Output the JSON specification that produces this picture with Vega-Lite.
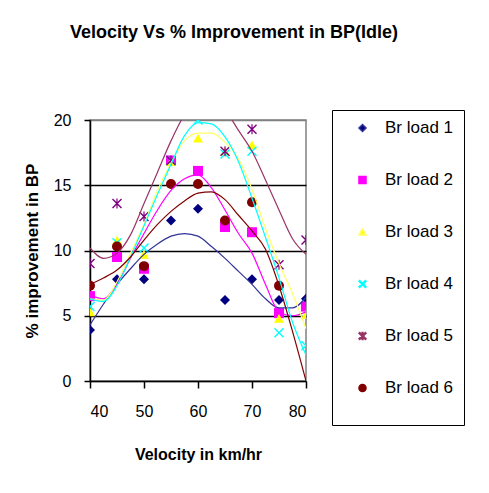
{
  "$schema": "https://vega.github.io/schema/vega-lite/v6.json",
  "width": 216,
  "height": 261,
  "autosize": {"type": "none"},
  "padding": {"left": 90, "top": 120, "right": 183, "bottom": 112},
  "background": "white",
  "title": {"text": "Velocity Vs % Improvement in BP(Idle)", "font": "Liberation Sans", "fontSize": 18, "fontWeight": "bold", "anchor": "middle", "dx": 36, "offset": 68, "color": "black"},
  "config": {
    "view": {"stroke": "#808080", "strokeWidth": 1.5},
    "axis": {"labelFont": "Liberation Sans", "titleFont": "Liberation Sans", "labelColor": "black", "titleColor": "black", "domainColor": "black", "tickColor": "black", "domainWidth": 1.5, "tickWidth": 1.5, "labelFontSize": 16, "titleFontSize": 16, "titleFontWeight": "bold"}
  },
  "datasets": {
    "points": [
      {"series": "Br load 1", "velocity": 40, "value": 3.9},
      {"series": "Br load 1", "velocity": 45, "value": 7.8},
      {"series": "Br load 1", "velocity": 50, "value": 7.8},
      {"series": "Br load 1", "velocity": 55, "value": 12.3},
      {"series": "Br load 1", "velocity": 60, "value": 13.2},
      {"series": "Br load 1", "velocity": 65, "value": 6.2},
      {"series": "Br load 1", "velocity": 70, "value": 7.8},
      {"series": "Br load 1", "velocity": 75, "value": 6.2},
      {"series": "Br load 1", "velocity": 80, "value": 6.3},
      {"series": "Br load 2", "velocity": 40, "value": 6.5},
      {"series": "Br load 2", "velocity": 45, "value": 9.5},
      {"series": "Br load 2", "velocity": 50, "value": 8.6},
      {"series": "Br load 2", "velocity": 55, "value": 16.9},
      {"series": "Br load 2", "velocity": 60, "value": 16.1},
      {"series": "Br load 2", "velocity": 65, "value": 11.8},
      {"series": "Br load 2", "velocity": 70, "value": 11.4},
      {"series": "Br load 2", "velocity": 75, "value": 5.2},
      {"series": "Br load 2", "velocity": 80, "value": 5.7},
      {"series": "Br load 3", "velocity": 40, "value": 5.3},
      {"series": "Br load 3", "velocity": 45, "value": 10.8},
      {"series": "Br load 3", "velocity": 50, "value": 9.7},
      {"series": "Br load 3", "velocity": 55, "value": 16.8},
      {"series": "Br load 3", "velocity": 60, "value": 18.6},
      {"series": "Br load 3", "velocity": 65, "value": 17.6},
      {"series": "Br load 3", "velocity": 70, "value": 18.1},
      {"series": "Br load 3", "velocity": 75, "value": 4.8},
      {"series": "Br load 3", "velocity": 80, "value": 5.1},
      {"series": "Br load 4", "velocity": 40, "value": 5.7},
      {"series": "Br load 4", "velocity": 45, "value": 10.6},
      {"series": "Br load 4", "velocity": 50, "value": 10.2},
      {"series": "Br load 4", "velocity": 55, "value": 16.9},
      {"series": "Br load 4", "velocity": 60, "value": 20.0},
      {"series": "Br load 4", "velocity": 65, "value": 17.4},
      {"series": "Br load 4", "velocity": 70, "value": 17.6},
      {"series": "Br load 4", "velocity": 75, "value": 3.7},
      {"series": "Br load 4", "velocity": 80, "value": 2.7},
      {"series": "Br load 5", "velocity": 40, "value": 9.0},
      {"series": "Br load 5", "velocity": 45, "value": 13.6},
      {"series": "Br load 5", "velocity": 50, "value": 12.6},
      {"series": "Br load 5", "velocity": 55, "value": 16.9},
      {"series": "Br load 5", "velocity": 60, "value": 21.5},
      {"series": "Br load 5", "velocity": 65, "value": 17.6},
      {"series": "Br load 5", "velocity": 70, "value": 19.3},
      {"series": "Br load 5", "velocity": 75, "value": 8.9},
      {"series": "Br load 5", "velocity": 80, "value": 10.8},
      {"series": "Br load 6", "velocity": 40, "value": 7.3},
      {"series": "Br load 6", "velocity": 45, "value": 10.3},
      {"series": "Br load 6", "velocity": 50, "value": 8.8},
      {"series": "Br load 6", "velocity": 55, "value": 15.1},
      {"series": "Br load 6", "velocity": 60, "value": 15.1},
      {"series": "Br load 6", "velocity": 65, "value": 12.3},
      {"series": "Br load 6", "velocity": 70, "value": 13.7},
      {"series": "Br load 6", "velocity": 75, "value": 7.3}
    ],
    "trend": [
      {"series": "Br load 1", "velocity": 40, "value": 4.3},
      {"series": "Br load 1", "velocity": 42.5, "value": 5.9},
      {"series": "Br load 1", "velocity": 45, "value": 7.4},
      {"series": "Br load 1", "velocity": 47.5, "value": 8.6},
      {"series": "Br load 1", "velocity": 50, "value": 9.7},
      {"series": "Br load 1", "velocity": 52.5, "value": 10.5},
      {"series": "Br load 1", "velocity": 55, "value": 11.1},
      {"series": "Br load 1", "velocity": 57.5, "value": 11.3},
      {"series": "Br load 1", "velocity": 60, "value": 11.1},
      {"series": "Br load 1", "velocity": 62.5, "value": 10.3},
      {"series": "Br load 1", "velocity": 65, "value": 9.4},
      {"series": "Br load 1", "velocity": 67.5, "value": 8.4},
      {"series": "Br load 1", "velocity": 70, "value": 7.4},
      {"series": "Br load 1", "velocity": 72.5, "value": 6.3},
      {"series": "Br load 1", "velocity": 75, "value": 5.6},
      {"series": "Br load 1", "velocity": 77.5, "value": 5.6},
      {"series": "Br load 1", "velocity": 80, "value": 6.4},
      {"series": "Br load 2", "velocity": 40, "value": 6.6},
      {"series": "Br load 2", "velocity": 42.5, "value": 6.3},
      {"series": "Br load 2", "velocity": 45, "value": 7.4},
      {"series": "Br load 2", "velocity": 47.5, "value": 9.4},
      {"series": "Br load 2", "velocity": 50, "value": 11.3},
      {"series": "Br load 2", "velocity": 52.5, "value": 13.1},
      {"series": "Br load 2", "velocity": 55, "value": 14.6},
      {"series": "Br load 2", "velocity": 57.5, "value": 15.5},
      {"series": "Br load 2", "velocity": 60, "value": 15.8},
      {"series": "Br load 2", "velocity": 62.5, "value": 14.8},
      {"series": "Br load 2", "velocity": 65, "value": 13.1},
      {"series": "Br load 2", "velocity": 67.5, "value": 11.3},
      {"series": "Br load 2", "velocity": 70, "value": 9.8},
      {"series": "Br load 2", "velocity": 72.5, "value": 7.4},
      {"series": "Br load 2", "velocity": 75, "value": 5.3},
      {"series": "Br load 2", "velocity": 77.5, "value": 5.0},
      {"series": "Br load 2", "velocity": 80, "value": 5.3},
      {"series": "Br load 3", "velocity": 40, "value": 6.3},
      {"series": "Br load 3", "velocity": 42.5, "value": 6.2},
      {"series": "Br load 3", "velocity": 45, "value": 7.6},
      {"series": "Br load 3", "velocity": 47.5, "value": 9.8},
      {"series": "Br load 3", "velocity": 50, "value": 12.0},
      {"series": "Br load 3", "velocity": 52.5, "value": 14.6},
      {"series": "Br load 3", "velocity": 55, "value": 16.7},
      {"series": "Br load 3", "velocity": 57.5, "value": 18.4},
      {"series": "Br load 3", "velocity": 60, "value": 19.0},
      {"series": "Br load 3", "velocity": 62.5, "value": 19.0},
      {"series": "Br load 3", "velocity": 65, "value": 18.3},
      {"series": "Br load 3", "velocity": 67.5, "value": 17.0},
      {"series": "Br load 3", "velocity": 70, "value": 14.7},
      {"series": "Br load 3", "velocity": 72.5, "value": 11.7},
      {"series": "Br load 3", "velocity": 75, "value": 9.0},
      {"series": "Br load 3", "velocity": 77.5, "value": 6.7},
      {"series": "Br load 3", "velocity": 80, "value": 4.0},
      {"series": "Br load 4", "velocity": 40, "value": 6.3},
      {"series": "Br load 4", "velocity": 42.5, "value": 6.1},
      {"series": "Br load 4", "velocity": 45, "value": 7.3},
      {"series": "Br load 4", "velocity": 47.5, "value": 9.5},
      {"series": "Br load 4", "velocity": 50, "value": 11.9},
      {"series": "Br load 4", "velocity": 52.5, "value": 14.3},
      {"series": "Br load 4", "velocity": 55, "value": 16.6},
      {"series": "Br load 4", "velocity": 57.5, "value": 18.8},
      {"series": "Br load 4", "velocity": 60, "value": 19.8},
      {"series": "Br load 4", "velocity": 62.5, "value": 19.7},
      {"series": "Br load 4", "velocity": 65, "value": 18.7},
      {"series": "Br load 4", "velocity": 67.5, "value": 16.8},
      {"series": "Br load 4", "velocity": 70, "value": 14.0},
      {"series": "Br load 4", "velocity": 72.5, "value": 11.0},
      {"series": "Br load 4", "velocity": 75, "value": 7.9},
      {"series": "Br load 4", "velocity": 77.5, "value": 4.5},
      {"series": "Br load 4", "velocity": 80, "value": 2.0},
      {"series": "Br load 5", "velocity": 40, "value": 10.2},
      {"series": "Br load 5", "velocity": 42.5, "value": 9.4},
      {"series": "Br load 5", "velocity": 45, "value": 9.8},
      {"series": "Br load 5", "velocity": 47.5, "value": 11.2},
      {"series": "Br load 5", "velocity": 50, "value": 13.6},
      {"series": "Br load 5", "velocity": 52.5, "value": 16.0},
      {"series": "Br load 5", "velocity": 55, "value": 18.4},
      {"series": "Br load 5", "velocity": 57.5, "value": 20.4},
      {"series": "Br load 5", "velocity": 60, "value": 21.5},
      {"series": "Br load 5", "velocity": 62.5, "value": 21.7},
      {"series": "Br load 5", "velocity": 65, "value": 20.8},
      {"series": "Br load 5", "velocity": 67.5, "value": 19.2},
      {"series": "Br load 5", "velocity": 70, "value": 17.6},
      {"series": "Br load 5", "velocity": 72.5, "value": 15.4},
      {"series": "Br load 5", "velocity": 75, "value": 13.1},
      {"series": "Br load 5", "velocity": 77.5, "value": 10.9},
      {"series": "Br load 5", "velocity": 80, "value": 9.7},
      {"series": "Br load 6", "velocity": 40, "value": 7.4},
      {"series": "Br load 6", "velocity": 42.5, "value": 7.9},
      {"series": "Br load 6", "velocity": 45, "value": 8.5},
      {"series": "Br load 6", "velocity": 47.5, "value": 9.5},
      {"series": "Br load 6", "velocity": 50, "value": 10.8},
      {"series": "Br load 6", "velocity": 52.5, "value": 12.0},
      {"series": "Br load 6", "velocity": 55, "value": 13.0},
      {"series": "Br load 6", "velocity": 57.5, "value": 13.8},
      {"series": "Br load 6", "velocity": 60, "value": 14.4},
      {"series": "Br load 6", "velocity": 62.5, "value": 14.5},
      {"series": "Br load 6", "velocity": 65, "value": 13.9},
      {"series": "Br load 6", "velocity": 67.5, "value": 12.7},
      {"series": "Br load 6", "velocity": 70, "value": 11.5},
      {"series": "Br load 6", "velocity": 72.5, "value": 10.1},
      {"series": "Br load 6", "velocity": 75, "value": 7.3},
      {"series": "Br load 6", "velocity": 77.5, "value": 3.8},
      {"series": "Br load 6", "velocity": 80, "value": 0}
    ]
  },
  "layer": [
    {
      "data": {"name": "points"},
      "mark": {"type": "point", "filled": true, "size": 100, "opacity": 1, "clip": true, "strokeWidth": 0},
      "encoding": {
        "x": {"field": "velocity", "type": "quantitative", "scale": {"domain": [40, 80], "nice": false, "zero": false},
          "axis": {"values": [40, 50, 60, 70, 80], "title": "Velocity in km/hr", "grid": false, "tickSize": 7, "labelPadding": 15, "titlePadding": 27}},
        "y": {"field": "value", "type": "quantitative", "scale": {"domain": [0, 20], "nice": false},
          "axis": {"values": [0, 5, 10, 15, 20], "title": "% improvement in BP", "titleFontSize": 17, "grid": true, "gridColor": {"condition": {"test": "datum.value === 20 || datum.value === 0", "value": "#808080"}, "value": "black"}, "gridWidth": 1.5, "tickSize": 6, "labelPadding": 13, "titlePadding": 12}},
        "color": {"field": "series", "type": "nominal",
          "scale": {"domain": ["Br load 1", "Br load 2", "Br load 3", "Br load 4", "Br load 5", "Br load 6"], "range": ["#000080", "#FF00FF", "#FFFF00", "#00FFFF", "#800080", "#800000"]},
          "legend": {"orient": "none", "legendX": 242, "legendY": -10, "title": " ", "titleOrient": "bottom", "titleFontSize": 12, "titlePadding": 8, "strokeColor": "black", "fillColor": "white", "padding": 10, "labelFontSize": 17, "labelFont": "Liberation Sans", "labelColor": "black", "symbolSize": 50, "rowPadding": 35, "clipHeight": 16, "labelOffset": 14, "symbolOffset": 12}},
        "shape": {"field": "series", "type": "nominal",
          "scale": {"domain": ["Br load 1", "Br load 2", "Br load 3", "Br load 4", "Br load 5", "Br load 6"], "range": ["diamond", "square", "triangle-up", "M-1,-0.8L-0.8,-1L1,0.8L0.8,1ZM1,-0.8L-0.8,1L-1,0.8L0.8,-1Z", "M-1,-0.8L-0.8,-1L1,0.8L0.8,1ZM1,-0.8L-0.8,1L-1,0.8L0.8,-1ZM-0.12,-1L0.12,-1L0.12,1L-0.12,1Z", "circle"]}}
      }
    },
    {
      "data": {"name": "trend"},
      "mark": {"type": "line", "clip": true, "strokeWidth": 1.2, "interpolate": "monotone"},
      "encoding": {
        "x": {"field": "velocity", "type": "quantitative"},
        "y": {"field": "value", "type": "quantitative"},
        "detail": {"field": "series", "type": "nominal"},
        "stroke": {"field": "series", "type": "nominal", "legend": null,
          "scale": {"domain": ["Br load 1", "Br load 2", "Br load 3", "Br load 4", "Br load 5", "Br load 6"], "range": ["#333399", "#FF00FF", "#FFFF66", "#00FFFF", "#993366", "#800000"]}}
      }
    }
  ]
}
